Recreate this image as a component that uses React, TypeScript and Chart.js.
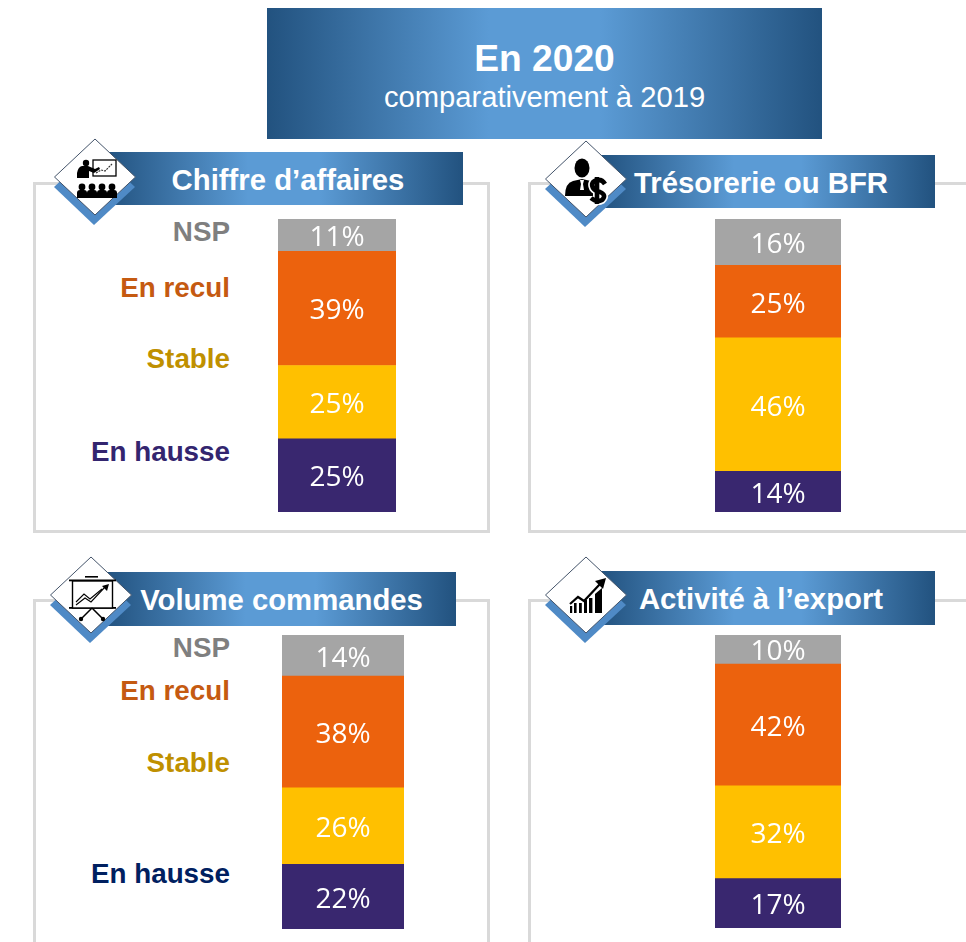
import React, { useEffect, useRef } from "react";
import { Chart, registerables } from "chart.js";

Chart.register(...registerables);

const seriesNames = ["En hausse", "Stable", "En recul", "NSP"];
const seriesColors = ["#39276f", "#ffc000", "#ec620d", "#a5a5a5"];
const chiffreValues = [25, 25, 39, 11];
const tresorerieValues = [14, 46, 25, 16];
const commandesValues = [22, 26, 38, 14];
const exportValues = [17, 32, 42, 10];

const valueLabelPlugin = {
  id: "valueLabels",
  afterDatasetsDraw(chart: any) {
    const { ctx } = chart;
    ctx.save();
    ctx.font = "28px 'Open Sans'";
    ctx.textAlign = "center";
    ctx.textBaseline = "middle";
    ctx.fillStyle = "#ffffff";
    chart.data.datasets.forEach((ds: any, i: number) => {
      const el = chart.getDatasetMeta(i).data[0] as any;
      const cy = (el.y + el.base) / 2 + 3;
      ctx.fillText(`${ds.data[0]}%`, el.x, cy);
    });
    ctx.restore();
  },
};

function Bars({ values, left, top, width, height }: { values: number[]; left: number; top: number; width: number; height: number }) {
  const ref = useRef<HTMLCanvasElement>(null);
  useEffect(() => {
    const chart = new Chart(ref.current!, {
      type: "bar",
      data: {
        labels: [""],
        datasets: values.map((v, i) => ({
          label: seriesNames[i],
          data: [v],
          backgroundColor: seriesColors[i],
          borderWidth: 0,
          barPercentage: 1,
          categoryPercentage: 1,
        })),
      },
      options: {
        animation: false,
        responsive: false,
        layout: { padding: 0 },
        plugins: { legend: { display: false }, tooltip: { enabled: false }, title: { display: false } },
        scales: {
          x: { stacked: true, display: false },
          y: { stacked: true, display: false, min: 0, max: values.reduce((a, b) => a + b, 0) },
        },
      },
      plugins: [valueLabelPlugin],
    });
    return () => chart.destroy();
  }, []);
  return <canvas ref={ref} width={width} height={height} style={{ position: "absolute", left, top, width, height, display: "block" }} />;
}

const GRAD = "linear-gradient(90deg,#22527f 0%,#5b9bd5 40%,#5b9bd5 60%,#22527f 100%)";
const ARIAL = "'Liberation Sans', Arial, sans-serif";

function Frame({ left, top, right, bottom }: { left: number; top: number; right: number; bottom: number }) {
  return <div style={{ position: "absolute", left, top, width: right - left, height: bottom - top, boxSizing: "border-box", border: "3px solid #d9d9d9" }} />;
}

function Banner({ text, left, top, right, bottom, textCenter, size }: { text: string; left: number; top: number; right: number; bottom: number; textCenter: number; size: number }) {
  return (
    <>
      <div style={{ position: "absolute", left, top, width: right - left, height: bottom - top, background: GRAD }} />
      <div style={{ position: "absolute", left: textCenter - 200, width: 400, top: top + 1, height: bottom - top, lineHeight: `${bottom - top}px`, textAlign: "center", color: "#fff", fontFamily: ARIAL, fontWeight: 700, fontSize: size, whiteSpace: "nowrap" }}>{text}</div>
    </>
  );
}

function Side({ text, y, color }: { text: string; y: number; color: string }) {
  return <div style={{ position: "absolute", left: 30, width: 200, top: y - 15, height: 32, lineHeight: "32px", textAlign: "right", color, fontFamily: ARIAL, fontWeight: 700, fontSize: 27.8, whiteSpace: "nowrap" }}>{text}</div>;
}

function Diamond({ cx, cy, children }: { cx: number; cy: number; children: React.ReactNode }) {
  return (
    <svg width={100} height={110} viewBox="-50 -50 100 110" style={{ position: "absolute", left: cx - 50, top: cy - 50 }}>
      <polygon points="-41,9 0,-29 40,9 -1,47" fill="#4f8ac6" />
      <polygon points="0,-39 40.5,-1 0,37 -40.5,-1" fill="#fff" stroke="#44546a" strokeWidth={1} />
      {children}
    </svg>
  );
}

function Person({ x, y }: { x: number; y: number }) {
  return (
    <g>
      <circle cx={x} cy={y} r={3.4} fill="#000" />
      <path d={`M${x - 5},${y + 11} v-5 q0,-3 3,-3 h4 q3,0 3,3 v5 z`} fill="#000" />
    </g>
  );
}

const PresenterIcon = () => (
  <g>
    <rect x={-2} y={-18} width={23} height={16} fill="#fff" stroke="#000" strokeWidth={1.3} />
    <polyline points="1,-5 6,-8 10,-7 17,-14" fill="none" stroke="#333" strokeWidth={1.2} strokeDasharray="2 1" />
    <circle cx={-9} cy={-15} r={3.2} fill="#000" />
    <path d="M-18,0 v-5 q1,-6 5,-7 h6 l7,3 l4,-2 l1,2 l-6,4 l-5,-2 v7 z" fill="#000" />
    <Person x={-13} y={9} />
    <Person x={-3} y={9} />
    <Person x={7} y={9} />
    <Person x={17} y={9} />
  </g>
);

const MoneyIcon = () => (
  <g>
    <ellipse cx={-4} cy={-12} rx={7.5} ry={9.5} fill="#000" />
    <path d="M-21,16 q0,-13 8,-15 l9,-2 l9,2 q6,2 7,8 v7 z" fill="#000" />
    <path d="M-6,0 h4 l-1,4 l1,6 h-4 l1,-6 z" fill="#fff" />
    <path d="M19,4 q-3,-5 -8,-4 q-7,2 -4,8 q2,3 7,4 q7,3 2,8 q-5,3 -11,-2 M11,-3 v27" fill="none" stroke="#fff" strokeWidth={8} />
    <path d="M19,4 q-3,-5 -8,-4 q-7,2 -4,8 q2,3 7,4 q7,3 2,8 q-5,3 -11,-2 M11,-3 v27" fill="none" stroke="#000" strokeWidth={4.6} />
  </g>
);

const EaselIcon = () => (
  <g>
    <rect x={-16} y={-20} width={13} height={1.6} fill="#000" transform="translate(10,0)" />
    <rect x={-22} y={-16.5} width={47} height={1.8} fill="#000" />
    <rect x={-22} y={11} width={47} height={1.8} fill="#000" />
    <rect x={-18.5} y={-15} width={40} height={27} fill="#fff" stroke="#000" strokeWidth={1.4} />
    <polyline points="-15,6 -7,-2 -1,3 11,-7" fill="none" stroke="#000" strokeWidth={1.1} />
    <polyline points="-15,9 -6,2 0,6 14,-9" fill="none" stroke="#000" strokeWidth={1.1} />
    <polygon points="18,-12 11,-10 16,-5" fill="#000" />
    <path d="M1,12 L-10,23 M1,12 L12,23" stroke="#000" strokeWidth={1.5} />
    <circle cx={-10} cy={23} r={2.2} fill="#000" />
    <circle cx={12} cy={23} r={2.2} fill="#000" />
  </g>
);

const GrowthIcon = () => (
  <g>
    <rect x={-16} y={10} width={2.2} height={7} fill="#000" />
    <rect x={-12} y={7} width={2.6} height={10} fill="#000" />
    <rect x={-7} y={7} width={2.8} height={10} fill="#000" />
    <rect x={-2} y={4} width={3} height={13} fill="#000" />
    <rect x={3} y={2} width={3.4} height={15} fill="#000" />
    <polygon points="9,-2 16,-8 16,17 9,17" fill="#000" />
    <polyline points="-16,8 -8,1 -2,5 14,-12" fill="none" stroke="#000" strokeWidth={2.2} />
    <polygon points="20,-18 9,-15 17,-7" fill="#000" />
  </g>
);

export default function App() {
  return (
    <div style={{ position: "fixed", left: 0, top: 0, width: 966, height: 942, overflow: "hidden", background: "#fff" }}>
      <div style={{ position: "absolute", left: 267, top: 8, width: 555, height: 131, background: GRAD }} />
      <div style={{ position: "absolute", left: 267, width: 555, top: 36, height: 44, lineHeight: "44px", textAlign: "center", color: "#fff", fontFamily: ARIAL, fontWeight: 700, fontSize: 37.2 }}>En 2020</div>
      <div style={{ position: "absolute", left: 267, width: 555, top: 80, height: 34, lineHeight: "34px", textAlign: "center", color: "#fff", fontFamily: ARIAL, fontSize: 29.2 }}>comparativement à 2019</div>

      <Frame left={33} top={182} right={490} bottom={533} />
      <Frame left={528} top={182} right={990} bottom={533} />
      <Frame left={33} top={599} right={490} bottom={990} />
      <Frame left={528} top={599} right={990} bottom={990} />

      <Banner text="Chiffre d’affaires" left={105} top={152} right={463} bottom={205} textCenter={288} size={29.3} />
      <Banner text="Trésorerie ou BFR" left={600} top={155} right={935} bottom={208} textCenter={761} size={29.3} />
      <Banner text="Volume commandes" left={105} top={572} right={456} bottom={626} textCenter={281.5} size={29.3} />
      <Banner text="Activité à l’export" left={600} top={571} right={935} bottom={625} textCenter={761} size={29.3} />

      <Diamond cx={95} cy={178}><PresenterIcon /></Diamond>
      <Diamond cx={586} cy={180}><MoneyIcon /></Diamond>
      <Diamond cx={90.5} cy={596}><EaselIcon /></Diamond>
      <Diamond cx={586} cy={596}><GrowthIcon /></Diamond>

      <Side text="NSP" y={231} color="#7f7f7f" />
      <Side text="En recul" y={287} color="#c55a11" />
      <Side text="Stable" y={358} color="#bf9000" />
      <Side text="En hausse" y={451} color="#33256f" />

      <Side text="NSP" y={647} color="#7f7f7f" />
      <Side text="En recul" y={690} color="#c55a11" />
      <Side text="Stable" y={762} color="#bf9000" />
      <Side text="En hausse" y={873} color="#002060" />

      <Bars values={chiffreValues} left={278} top={219} width={118} height={293} />
      <Bars values={tresorerieValues} left={715} top={219} width={126} height={293} />
      <Bars values={commandesValues} left={282} top={635} width={122} height={294} />
      <Bars values={exportValues} left={715} top={635} width={126} height={293} />
    </div>
  );
}
